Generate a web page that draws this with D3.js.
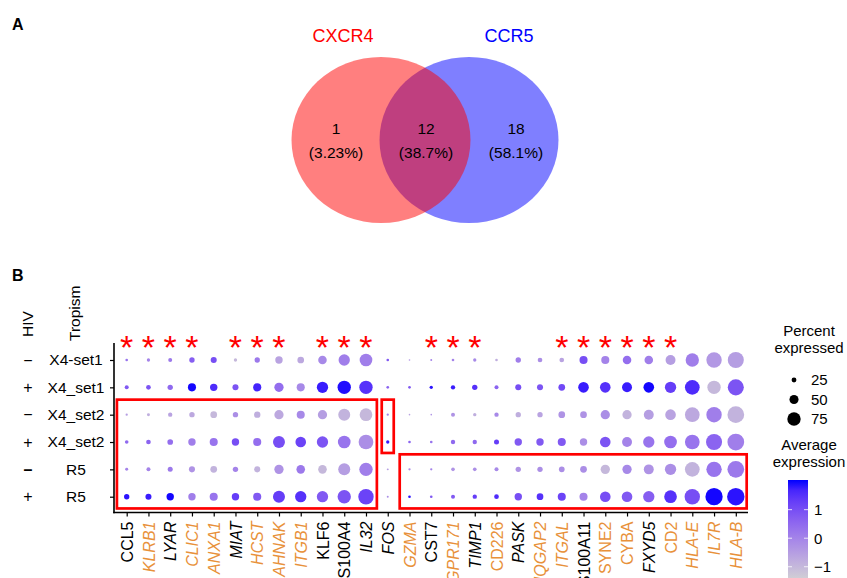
<!DOCTYPE html>
<html>
<head>
<meta charset="utf-8">
<script src="https://cdn.jsdelivr.net/npm/d3@7"></script>
<style>
  body { margin: 0; background: #fff; }
  svg { font-family: "Liberation Sans", Arial, sans-serif; display: block; }
</style>
</head>
<body>
<svg id="fig" width="847" height="578"></svg>
<script>
// ---- Venn data ----
const vennSets = ["CXCR4", "CCR5"];
const vennCounts = [1, 12, 18];
const vennPercents = ["(3.23%)", "(38.7%)", "(58.1%)"];

// ---- Dot plot data ----
const genes = ["CCL5","KLRB1","LYAR","CLIC1","ANXA1","MIAT","HCST","AHNAK","ITGB1","KLF6","S100A4","IL32",
  "FOS","GZMA","CST7","GPR171","TIMP1","CD226","PASK","IQGAP2","ITGAL","S100A11","SYNE2","CYBA","FXYD5",
  "CD2","HLA-E","IL7R","HLA-B"];
const orangeGenes = ["KLRB1","CLIC1","ANXA1","HCST","AHNAK","ITGB1","GZMA","GPR171","CD226","IQGAP2",
  "ITGAL","SYNE2","CYBA","CD2","HLA-E","IL7R","HLA-B"];
const italicGenes = ["KLRB1","LYAR","CLIC1","ANXA1","MIAT","HCST","AHNAK","ITGB1","IL32","FOS","GZMA",
  "GPR171","TIMP1","PASK","IQGAP2","ITGAL","FXYD5","HLA-E","IL7R","HLA-B"];
const starGenes = ["CCL5","KLRB1","LYAR","CLIC1","MIAT","HCST","AHNAK","KLF6","S100A4","IL32",
  "CST7","GPR171","TIMP1","ITGAL","S100A11","SYNE2","CYBA","FXYD5","CD2"];

const tropism = ["X4-set1","X4_set1","X4_set2","X4_set2","R5","R5"];
const hivStatus = ["\u2212","+","\u2212","+","\u2013","+"];

// percent expressed, one array per row (same order as genes)
const pctExpressed = [
  [12,16,20,28,32,16,28,40,36,47,63,71,12, 6, 8,12,16,12,28,24,24,44,44,47,47,55,75,87,91],
  [20,24,28,44,40,32,44,51,44,63,75,75,12,12,16,22,28,20,32,32,36,59,59,55,59,63,83,75,91],
  [10,14,22,28,36,28,34,51,44,51,67,71,10, 6, 6,20,16,22,28,28,36,36,51,51,55,59,83,87,95],
  [18,24,30,40,44,40,44,67,59,63,71,83,16,12,12,22,22,26,40,40,44,40,59,55,63,71,83,91,95],
  [14,20,26,32,36,28,32,51,47,47,67,75, 8,10,10,18,18,20,28,28,30,36,51,51,55,63,83,87,95],
  [28,32,40,40,44,40,44,67,63,63,75,87, 8,12,12,20,22,24,40,36,44,44,59,59,63,71,87,98,99]
];
// average (scaled) expression, one array per row
const avgExpression = [
  [0.3,0.0,0.2,0.7,1.0,-1.0,0.2,-0.6,-0.7,-0.1,0.1,0.1,0.8,-0.3,0.0,0.0,-0.1,-0.8,0.1,-0.2,-0.6,1.0,0.0,0.4,0.1,-0.5,0.1,-0.4,-0.5],
  [0.8,0.9,0.5,2.0,1.6,0.9,1.7,0.4,-0.1,1.8,1.95,1.5,0.6,0.8,1.9,1.8,1.5,0.6,1.0,0.9,1.1,1.8,1.5,1.8,2.0,1.3,1.6,-1.0,0.9],
  [-0.5,-0.8,-0.6,-0.7,-1.0,-0.2,-0.8,-0.7,-0.1,-0.5,-0.9,-1.0,0.0,-0.6,-0.3,-0.3,-0.8,-0.1,-0.8,-0.6,-0.3,-0.3,-0.2,-0.9,-0.5,-0.6,-0.7,0.1,-0.9],
  [0.5,0.6,0.4,0.1,0.3,1.0,0.4,1.0,1.2,0.9,0.3,-0.2,1.8,0.6,0.3,0.5,0.5,1.3,0.8,0.8,0.8,-0.2,0.9,0.0,0.3,0.4,0.3,0.6,0.1],
  [0.0,0.0,0.2,-0.3,-0.9,0.0,-0.9,-0.3,0.2,-1.0,-0.5,0.1,-0.5,-0.2,0.0,-0.3,-0.2,-0.1,-0.3,-0.2,-0.2,-0.2,-1.0,-0.1,-0.3,-0.2,-0.9,0.3,0.2],
  [1.9,1.8,2.0,0.1,0.3,1.3,0.8,1.3,1.5,0.8,0.9,1.2,-0.2,1.9,0.8,0.8,1.3,1.6,1.0,1.5,1.2,0.0,1.0,0.8,0.7,1.5,1.0,2.0,1.9]
];

// highlighted blocks: [first gene, last gene, first row, last row]
const highlightBoxes = [
  ["CCL5", "IL32", 2, 5],
  ["FOS", "FOS", 2, 3],
  ["GZMA", "HLA-B", 4, 5]
];

const sizeLegend = [25, 50, 75];
const colorTicks = [1, 0, -1];

const svg = d3.select("#fig");
const orange = "#E8913A";

// ================= Panel A : Venn =================
svg.append("text").attr("x", 12).attr("y", 30)
  .attr("font-size", 16).attr("font-weight", "bold").text("A");

const vx = d3.scaleLinear().domain([0, 1]).range([381, 469]);
const vennRx = 89.5, vennRy = 83, vennCy = 140;
const vennColors = ["#FF0000", "#0000FF"];
// blue first, red on top
[1, 0].forEach(i => {
  svg.append("ellipse")
    .attr("cx", vx(i)).attr("cy", vennCy).attr("rx", vennRx).attr("ry", vennRy)
    .attr("fill", vennColors[i]).attr("fill-opacity", 0.5);
});
svg.selectAll(".set-label").data(vennSets).join("text")
  .attr("class", "set-label")
  .attr("x", (d, i) => i === 0 ? 343 : 509)
  .attr("y", 42)
  .attr("text-anchor", "middle")
  .attr("font-size", 18)
  .attr("fill", vennColors.map(c => c))
  .attr("fill", (d, i) => vennColors[i])
  .text(d => d);

const regionX = [336, 426, 516];
svg.selectAll(".venn-count").data(vennCounts).join("text")
  .attr("class", "venn-count")
  .attr("x", (d, i) => regionX[i]).attr("y", 134)
  .attr("text-anchor", "middle").attr("font-size", 15.5)
  .text(d => d);
svg.selectAll(".venn-pct").data(vennPercents).join("text")
  .attr("class", "venn-pct")
  .attr("x", (d, i) => regionX[i]).attr("y", 158)
  .attr("text-anchor", "middle").attr("font-size", 15.5)
  .text(d => d);

// ================= Panel B : Dot plot =================
svg.append("text").attr("x", 12).attr("y", 281)
  .attr("font-size", 16).attr("font-weight", "bold").text("B");

const x = d3.scalePoint().domain(genes).range([126.7, 735.8]);
const y = d3.scalePoint().domain(d3.range(tropism.length)).range([360, 496.7]);
const rScale = d3.scaleLinear().domain([0, 100]).range([0.3, 8.8]);
const color = d3.scaleLinear().domain([-1.5, 2.04])
  .range(["#D3D3D3", "#0000FF"]).interpolate(d3.interpolateLab);

const axisX0 = 114, axisY0 = 512.5, panelRight = 748, panelTop = 343;

const dots = [];
pctExpressed.forEach((row, ri) => row.forEach((p, gi) => {
  dots.push({ gene: genes[gi], row: ri, pct: p, avg: avgExpression[ri][gi] });
}));

svg.append("g").selectAll("circle").data(dots).join("circle")
  .attr("cx", d => x(d.gene))
  .attr("cy", d => y(d.row))
  .attr("r", d => rScale(d.pct))
  .attr("fill", d => color(d.avg));

// asterisks
svg.append("g").selectAll("text").data(starGenes).join("text")
  .attr("x", d => x(d))
  .attr("y", 359)
  .attr("text-anchor", "middle")
  .attr("font-size", 34)
  .attr("fill", "#FF0000")
  .text("*");

// red boxes
const colStep = x.step(), rowStep = y.step();
svg.append("g").selectAll("rect").data(highlightBoxes).join("rect")
  .attr("x", d => x(d[0]) - (d[0] === d[1] ? 6 : colStep * 0.45))
  .attr("y", d => y(d[2]) - rowStep * 0.55)
  .attr("width", d => (x(d[1]) - x(d[0])) + (d[0] === d[1] ? 12 : colStep * 0.95))
  .attr("height", d => (y(d[3]) - y(d[2])) + rowStep * (d[3] === 5 ? 0.98 : 0.95))
  .attr("fill", "none")
  .attr("stroke", "#FF0000")
  .attr("stroke-width", 2.7);

// axes
const xAxis = d3.axisBottom(x).tickSize(4).tickSizeOuter(0);
const gx = svg.append("g").attr("transform", `translate(0,${axisY0})`).call(xAxis);
gx.select(".domain").remove();
gx.selectAll(".tick line").attr("stroke", "#000").attr("stroke-width", 1.2);
gx.selectAll(".tick text")
  .attr("transform", "rotate(-90)")
  .attr("x", -9).attr("y", 0).attr("dy", "0.35em")
  .attr("text-anchor", "end")
  .attr("font-size", 16)
  .attr("font-family", "Liberation Sans, Arial, sans-serif")
  .attr("fill", d => orangeGenes.includes(d) ? orange : "#000")
  .attr("font-style", d => italicGenes.includes(d) ? "italic" : "normal");

const yAxis = d3.axisLeft(y).tickSize(4).tickSizeOuter(0).tickFormat(i => tropism[i]);
const gy = svg.append("g").attr("transform", `translate(${axisX0},0)`).call(yAxis);
gy.select(".domain").remove();
gy.selectAll(".tick line").attr("stroke", "#000").attr("stroke-width", 1.2);
gy.selectAll(".tick text")
  .attr("x", -38).attr("text-anchor", "middle")
  .attr("font-size", 15.5)
  .attr("font-family", "Liberation Sans, Arial, sans-serif")
  .attr("fill", "#000");

svg.append("line").attr("x1", axisX0).attr("x2", axisX0)
  .attr("y1", panelTop).attr("y2", axisY0 + 0.8)
  .attr("stroke", "#000").attr("stroke-width", 1.6);
svg.append("line").attr("x1", axisX0 - 0.8).attr("x2", panelRight)
  .attr("y1", axisY0).attr("y2", axisY0)
  .attr("stroke", "#000").attr("stroke-width", 1.6);

// HIV column
svg.append("g").selectAll("text").data(hivStatus).join("text")
  .attr("x", 28).attr("y", (d, i) => y(i))
  .attr("dy", "0.35em")
  .attr("text-anchor", "middle")
  .attr("font-size", 16)
  .attr("font-weight", (d, i) => i === 4 ? "bold" : "normal")
  .text(d => d);

svg.append("text")
  .attr("transform", "translate(33,337) rotate(-90)")
  .attr("font-size", 15.5).text("HIV");
svg.append("text")
  .attr("transform", "translate(80,341) rotate(-90)")
  .attr("font-size", 15.5).text("Tropism");

// ---- size legend ----
const lg = svg.append("g");
lg.append("text").attr("x", 809).attr("y", 336).attr("text-anchor", "middle")
  .attr("font-size", 15).text("Percent");
lg.append("text").attr("x", 809).attr("y", 353).attr("text-anchor", "middle")
  .attr("font-size", 15).text("expressed");
const sizeY = d3.scalePoint().domain(sizeLegend).range([380, 419]);
lg.selectAll(".size-dot").data(sizeLegend).join("circle")
  .attr("class", "size-dot")
  .attr("cx", 794).attr("cy", d => sizeY(d)).attr("r", d => rScale(d))
  .attr("fill", "#000");
lg.selectAll(".size-lab").data(sizeLegend).join("text")
  .attr("class", "size-lab")
  .attr("x", 811).attr("y", d => sizeY(d)).attr("dy", "0.36em")
  .attr("font-size", 15).text(d => d);

// ---- color legend ----
lg.append("text").attr("x", 809).attr("y", 450).attr("text-anchor", "middle")
  .attr("font-size", 15).text("Average");
lg.append("text").attr("x", 809).attr("y", 467).attr("text-anchor", "middle")
  .attr("font-size", 15).text("expression");

const barX = 788, barW = 20;
const barScale = d3.scaleLinear().domain(color.domain()).range([581, 480]);
const grad = svg.append("defs").append("linearGradient")
  .attr("id", "avg-grad").attr("x1", "0%").attr("x2", "0%").attr("y1", "100%").attr("y2", "0%");
d3.range(0, 1.0001, 0.1).forEach(t => {
  const v = color.domain()[0] + t * (color.domain()[1] - color.domain()[0]);
  grad.append("stop").attr("offset", `${t * 100}%`).attr("stop-color", color(v));
});
lg.append("rect").attr("x", barX).attr("y", barScale.range()[1])
  .attr("width", barW).attr("height", barScale.range()[0] - barScale.range()[1])
  .attr("fill", "url(#avg-grad)");
colorTicks.forEach(v => {
  [[barX, barX + 4], [barX + barW - 4, barX + barW]].forEach(([a, b]) => {
    lg.append("line").attr("x1", a).attr("x2", b)
      .attr("y1", barScale(v)).attr("y2", barScale(v))
      .attr("stroke", "#fff").attr("stroke-opacity", 0.8).attr("stroke-width", 1);
  });
});
lg.selectAll(".col-lab").data(colorTicks).join("text")
  .attr("class", "col-lab")
  .attr("x", 814).attr("y", d => barScale(d)).attr("dy", "0.36em")
  .attr("font-size", 15).text(d => d < 0 ? "\u2212" + Math.abs(d) : d);
</script>
</body>
</html>
